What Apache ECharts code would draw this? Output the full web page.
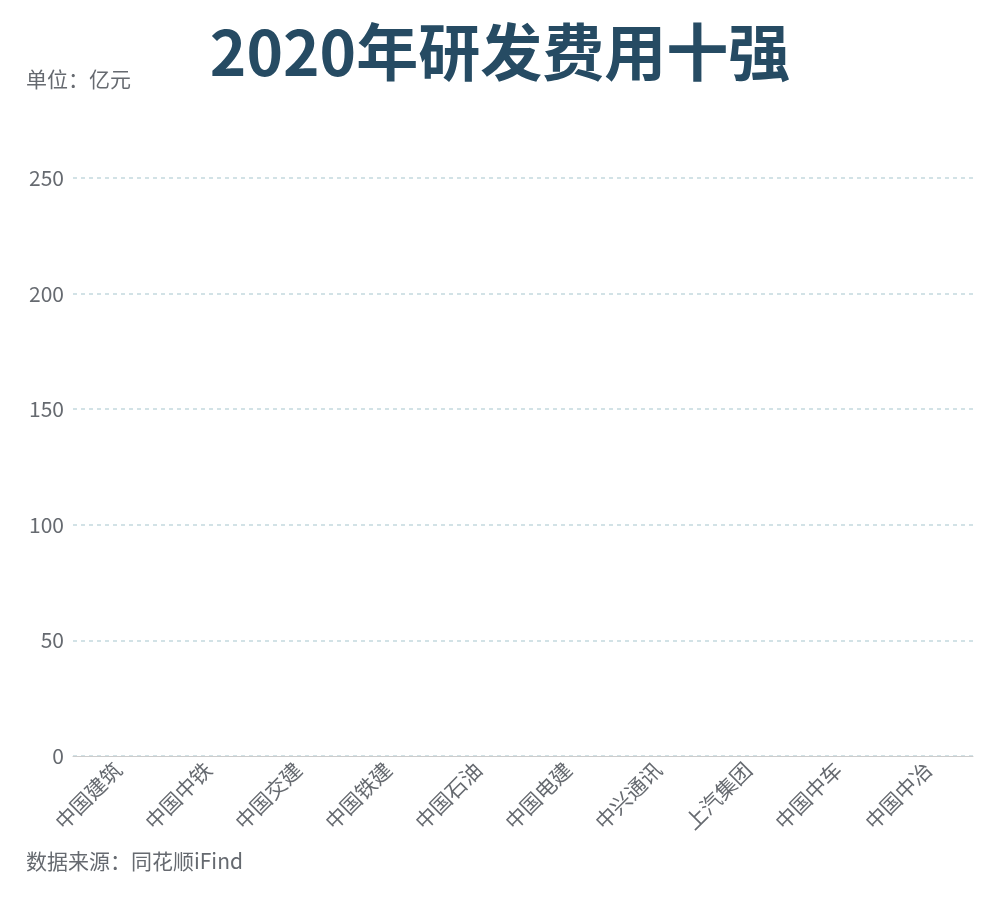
<!DOCTYPE html>
<html><head><meta charset="utf-8">
<script src="https://cdn.jsdelivr.net/npm/echarts@6/dist/echarts.min.js"></script>
<style>html,body{margin:0;padding:0;background:#fff}#c{width:1000px;height:900px}</style>
</head><body><div id="c"></div>
<script>
const titleText = '2020年研发费用十强';
const unitText = '单位：亿元';
const sourceText = '数据来源：同花顺iFind';
const categories = ['中国建筑','中国中铁','中国交建','中国铁建','中国石油','中国电建','中兴通讯','上汽集团','中国中车','中国中冶'];
// The reference frame shows no bars drawn (values not visible in the picture)
const values = [null,null,null,null,null,null,null,null,null,null];
const yMin = 0, yMax = 250, yInterval = 50;

const font = '"Noto Sans CJK SC", "Noto Sans", sans-serif';
const chart = echarts.init(document.getElementById('c'));
chart.setOption({
  animation: false,
  textStyle: {fontFamily: font},
  title: [
    {text: titleText, left: 'center', top: 16,
     textStyle: {fontSize: 62, fontWeight: 'bold', color: '#264b63', fontFamily: font}},
    {text: unitText, left: 21, top: 64,
     textStyle: {fontSize: 21, fontWeight: 'normal', color: '#666a70', fontFamily: font}},
    {text: sourceText, left: 21, top: 846,
     textStyle: {fontSize: 21, fontWeight: 'normal', color: '#666a70', fontFamily: font}}
  ],
  grid: {left: 73, right: 27, top: 178, bottom: 144, containLabel: false},
  xAxis: {
    type: 'category', data: categories,
    axisLine: {lineStyle: {color: '#cccccc'}},
    axisTick: {alignWithLabel: true, length: 5, lineStyle: {color: '#cccccc'}},
    axisLabel: {rotate: 45, fontSize: 21, color: '#666a70', margin: 10, fontFamily: font}
  },
  yAxis: {
    type: 'value', min: yMin, max: yMax, interval: yInterval,
    axisLine: {show: false}, axisTick: {show: false},
    axisLabel: {fontSize: 21, color: '#666a70', margin: 9, fontFamily: font},
    splitLine: {lineStyle: {type: [4, 4], color: '#d2e2e6', width: 2}}
  },
  series: [{type: 'bar', data: values, itemStyle: {color: '#264b63'}}]
});
</script></body></html>
